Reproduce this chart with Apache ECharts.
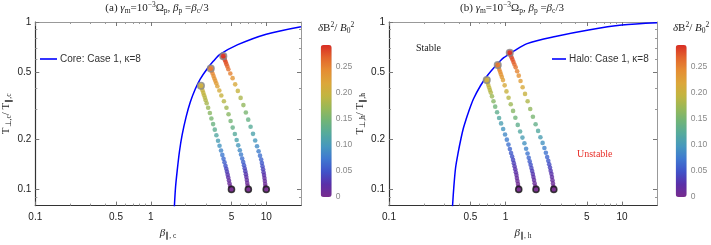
<!DOCTYPE html>
<html><head><meta charset="utf-8">
<script src="https://cdn.jsdelivr.net/npm/echarts@6.0.0/dist/echarts.min.js"></script>
<style>html,body{margin:0;padding:0;background:#fff}#c{width:711px;height:245px}</style>
</head><body><div id="c"></div>
<script>
// ---------- data ----------
const X_MAJOR = [0.1, 0.5, 1, 5, 10];
const X_MINOR = [0.2, 0.3, 0.4, 0.6, 0.7, 0.8, 0.9, 2, 3, 4, 6, 7, 8, 9];
const Y_MAJOR = [0.1, 0.2, 0.5, 1];
const Y_MINOR = [0.09, 0.3, 0.4, 0.6, 0.7, 0.8, 0.9];
const CB_TICKS = [0, 0.05, 0.1, 0.15, 0.2, 0.25];
const X_RANGE = [0.1, 20];
const Y_RANGE = [0.08, 1];
const DB_RANGE = [0, 0.2925];

// threshold curves
const CORE_CURVE_B = [1.60, 1.638, 1.693, 1.773, 1.869, 2.023, 2.20, 2.43, 2.68, 3.06, 3.49, 3.98, 5.67, 10, 20];
const CORE_CURVE_T = [0.078, 0.1027, 0.129, 0.169, 0.2115, 0.271, 0.333, 0.398, 0.456, 0.522, 0.584, 0.64, 0.732, 0.846, 0.938];
const HALO_CURVE_B = [0.351, 0.36, 0.373, 0.392, 0.4155, 0.435, 0.4613, 0.482, 0.532, 0.61, 0.697, 0.821, 0.967, 1.178, 1.535, 2.68, 5.17, 10, 20];
const HALO_CURVE_T = [0.079, 0.1027, 0.1346, 0.165, 0.202, 0.2317, 0.265, 0.2904, 0.3476, 0.416, 0.477, 0.546, 0.612, 0.669, 0.743, 0.82, 0.897, 0.96, 0.99];

// core chains (final state first, initial state last)
const CB1 = [2.72,2.763,2.806,2.851,2.897,2.943,2.99,3.05,3.14,3.25,3.35,3.467,3.584,3.70,3.825,3.94,4.06,4.165,4.265,4.35,4.436,4.506,4.57,4.634,4.69,4.753,4.81,4.876,5.0];
const CT1 = [0.416,0.403,0.390,0.377,0.365,0.3525,0.3405,0.327,0.3077,0.2857,0.265,0.2455,0.2275,0.2106,0.1954,0.1822,0.1707,0.1607,0.1522,0.1452,0.1384,0.1328,0.1276,0.1225,0.1177,0.113,0.1085,0.1042,0.1];
const CD1 = [0.205,0.203,0.2,0.197,0.194,0.19,0.186,0.18,0.172,0.162,0.152,0.141,0.13,0.118,0.106,0.095,0.084,0.074,0.065,0.057,0.049,0.042,0.035,0.029,0.023,0.017,0.011,0.006,0];

const CB2 = [3.31,3.37,3.43,3.494,3.556,3.62,3.693,3.774,3.925,4.083,4.298,4.524,4.716,4.915,5.123,5.35,5.544,5.722,5.905,6.047,6.192,6.315,6.416,6.505,6.582,6.66,6.726,6.79,6.847,6.901,7.0];
const CT2 = [0.527,0.510,0.492,0.476,0.460,0.445,0.430,0.4135,0.390,0.3636,0.336,0.3077,0.281,0.2564,0.234,0.214,0.1973,0.1832,0.1712,0.1615,0.153,0.1457,0.1393,0.1338,0.1285,0.1233,0.1186,0.1137,0.1092,0.105,0.1];
const CD2 = [0.255,0.252,0.248,0.244,0.24,0.235,0.229,0.222,0.212,0.2,0.188,0.175,0.162,0.149,0.136,0.123,0.111,0.099,0.088,0.078,0.068,0.059,0.051,0.043,0.036,0.029,0.023,0.017,0.011,0.005,0];

const CB3 = [4.246,4.315,4.384,4.455,4.524,4.605,4.697,4.886,5.113,5.383,5.675,6.0,6.34,6.66,6.98,7.32,7.68,8.02,8.325,8.59,8.83,9.04,9.17,9.28,9.39,9.48,9.57,9.65,9.73,9.79,9.84,10];
const CT3 = [0.625,0.608,0.592,0.576,0.560,0.542,0.522,0.492,0.462,0.424,0.3875,0.352,0.3187,0.288,0.261,0.2366,0.2147,0.196,0.181,0.169,0.159,0.1507,0.1437,0.1376,0.132,0.1267,0.1217,0.1168,0.1122,0.1077,0.1041,0.1];
const CD3 = [0.29,0.287,0.283,0.279,0.274,0.268,0.261,0.251,0.235,0.215,0.198,0.182,0.167,0.152,0.138,0.124,0.111,0.099,0.088,0.078,0.069,0.06,0.052,0.045,0.038,0.031,0.025,0.019,0.013,0.008,0.004,0];

// halo chains
const HB1 = [0.691,0.701,0.712,0.7236,0.735,0.748,0.766,0.789,0.816,0.847,0.8815,0.917,0.9557,0.992,1.028,1.061,1.091,1.117,1.141,1.162,1.18,1.197,1.213,1.228,1.243,1.254,1.267,1.28,1.29,1.30];
const HT1 = [0.450,0.4346,0.420,0.4063,0.3928,0.3787,0.3596,0.336,0.312,0.2888,0.267,0.2478,0.2294,0.2129,0.1982,0.1852,0.1742,0.165,0.1572,0.150,0.1435,0.1374,0.132,0.1267,0.1217,0.1168,0.1122,0.1077,0.1037,0.1];
const HD1 = [0.205,0.202,0.198,0.194,0.19,0.185,0.172,0.16,0.146,0.132,0.119,0.107,0.096,0.086,0.077,0.069,0.061,0.054,0.048,0.042,0.037,0.032,0.027,0.023,0.018,0.014,0.01,0.006,0.003,0];

const HB2 = [0.859,0.873,0.886,0.901,0.915,0.9316,0.952,0.984,1.02,1.063,1.11,1.162,1.216,1.275,1.336,1.399,1.455,1.504,1.547,1.584,1.615,1.644,1.670,1.694,1.718,1.738,1.759,1.78,1.801,1.83];
const HT2 = [0.553,0.536,0.519,0.5027,0.4865,0.4696,0.4498,0.4184,0.3848,0.3529,0.3228,0.2943,0.268,0.2428,0.2218,0.2039,0.1887,0.1747,0.1637,0.1545,0.1469,0.1404,0.1343,0.1288,0.1235,0.1185,0.1136,0.1089,0.1044,0.1];
const HD2 = [0.255,0.252,0.248,0.243,0.238,0.232,0.225,0.214,0.201,0.188,0.174,0.16,0.146,0.132,0.118,0.105,0.093,0.082,0.072,0.063,0.055,0.048,0.041,0.035,0.029,0.023,0.017,0.011,0.005,0];

const HB3 = [1.089,1.108,1.128,1.148,1.171,1.194,1.223,1.26,1.30,1.347,1.404,1.472,1.55,1.632,1.72,1.815,1.906,1.995,2.084,2.159,2.223,2.281,2.331,2.373,2.411,2.444,2.479,2.508,2.533,2.558,2.578,2.6];
const HT3 = [0.6545,0.6345,0.615,0.5962,0.577,0.5578,0.536,0.5077,0.4779,0.4437,0.4078,0.372,0.336,0.3023,0.2714,0.2452,0.2236,0.205,0.1895,0.1767,0.1655,0.1561,0.1481,0.1411,0.1349,0.1291,0.1238,0.1185,0.1134,0.1086,0.1041,0.1];
const HD3 = [0.29,0.287,0.283,0.279,0.274,0.268,0.26,0.25,0.24,0.228,0.215,0.2,0.184,0.167,0.151,0.135,0.12,0.106,0.093,0.081,0.07,0.061,0.053,0.046,0.039,0.032,0.026,0.02,0.014,0.009,0.004,0];

const RAINBOW = ['#782c8e','#5a2fa8','#4052c9','#3f78d0','#4698be','#55aa9c','#70b478','#98b858','#c2b540','#dca63a','#e58d33','#e3652c','#d92d24'];

// ---------- helpers ----------
const SANS = '"Liberation Sans", Arial, sans-serif';
const SERIF = '"Liberation Serif", "Times New Roman", serif';
const zip2 = (a, b) => a.map((v, i) => [v, b[i]]);
const zip3 = (a, b, c) => a.map((v, i) => [v, b[i], c[i]]);
const chain = (b, t, d) => zip3(b, t, d);
function ends(chains) {
  const out = [];
  chains.forEach(ch => {
    const init = ch[ch.length - 1], fin = ch[0];
    out.push({ value: init, symbolSize: 6, itemStyle: { borderColor: '#111', borderWidth: 1.6 } });
    out.push({ value: fin, symbolSize: 6.5, itemStyle: { borderColor: '#8a8a8a', borderWidth: 1.6 } });
  });
  return out;
}
const fmt = v => String(+(+v).toPrecision(3));
const subRich = {
  base: { fontFamily: SERIF, fontSize: 11, color: '#222' },
  it: { fontFamily: SERIF, fontSize: 11, fontStyle: 'italic', color: '#222' },
  sub: { fontFamily: SERIF, fontSize: 7.5, color: '#222', padding: [6, 0, 0, 0] },
  sup: { fontFamily: SERIF, fontSize: 7.5, color: '#222', padding: [0, 0, 6, 0] }
};

function xAxes(g, name) {
  const base = { type: 'log', logBase: 10, min: X_RANGE[0], max: X_RANGE[1], gridIndex: g, splitLine: { show: false }, minorTick: { show: false } };
  const major = { show: true, inside: true, length: 4, customValues: X_MAJOR, lineStyle: { color: '#777', width: 1 } };
  const minor = { show: true, inside: true, length: 2, customValues: X_MINOR, lineStyle: { color: '#999', width: 1 } };
  return [
    Object.assign({}, base, {
      position: 'bottom', name: name, nameLocation: 'middle', nameGap: 18,
      nameTextStyle: { rich: subRich, fontFamily: SERIF, fontSize: 11, color: '#222' },
      axisLine: { show: true, onZero: false, lineStyle: { color: '#333', width: 1.2 } },
      axisTick: major,
      axisLabel: { show: true, customValues: X_MAJOR, formatter: fmt, fontFamily: SANS, fontSize: 10, color: '#222', margin: 7 }
    }),
    Object.assign({}, base, { position: 'bottom', axisLine: { show: false, onZero: false }, axisTick: minor, axisLabel: { show: false } }),
    Object.assign({}, base, { position: 'top', axisLine: { show: true, onZero: false, lineStyle: { color: '#999', width: 1 } }, axisTick: major, axisLabel: { show: false } }),
    Object.assign({}, base, { position: 'top', axisLine: { show: false, onZero: false }, axisTick: minor, axisLabel: { show: false } })
  ];
}
function yAxes(g, name) {
  const base = { type: 'log', logBase: 10, min: Y_RANGE[0], max: Y_RANGE[1], gridIndex: g, splitLine: { show: false }, minorTick: { show: false } };
  const major = { show: true, inside: true, length: 4, customValues: Y_MAJOR, lineStyle: { color: '#777', width: 1 } };
  const minor = { show: true, inside: true, length: 2, customValues: Y_MINOR, lineStyle: { color: '#999', width: 1 } };
  return [
    Object.assign({}, base, {
      position: 'left', name: name, nameLocation: 'middle', nameGap: 20,
      nameTextStyle: { rich: subRich, fontFamily: SERIF, fontSize: 11, color: '#222' },
      axisLine: { show: true, onZero: false, lineStyle: { color: '#333', width: 1.2 } },
      axisTick: major,
      axisLabel: { show: true, customValues: Y_MAJOR, formatter: fmt, fontFamily: SANS, fontSize: 10, color: '#222', margin: 4 }
    }),
    Object.assign({}, base, { position: 'left', axisLine: { show: false, onZero: false }, axisTick: minor, axisLabel: { show: false } }),
    Object.assign({}, base, { position: 'right', axisLine: { show: true, onZero: false, lineStyle: { color: '#999', width: 1 } }, axisTick: major, axisLabel: { show: false } }),
    Object.assign({}, base, { position: 'right', axisLine: { show: false, onZero: false }, axisTick: minor, axisLabel: { show: false } })
  ];
}
function cbXAxis(g) {
  return { type: 'value', gridIndex: g, min: 0, max: 1, show: false };
}
function cbYAxis(g) {
  return {
    type: 'value', gridIndex: g, min: DB_RANGE[0], max: DB_RANGE[1], position: 'right',
    axisLine: { show: false, onZero: false }, axisTick: { show: false }, splitLine: { show: false },
    axisLabel: { show: true, customValues: CB_TICKS, formatter: v => (+v === 0 ? '0' : (+v).toFixed(2)), fontFamily: SANS, fontSize: 8.5, color: '#888', margin: 4 }
  };
}

const coreChains = [chain(CB1, CT1, CD1), chain(CB2, CT2, CD2), chain(CB3, CT3, CD3)];
const haloChains = [chain(HB1, HT1, HD1), chain(HB2, HT2, HD2), chain(HB3, HT3, HD3)];

const coreName = 'Core: Case 1, \u03ba=8';
const haloName = 'Halo: Case 1, \u03ba=8';

const option = {
  animation: false,
  backgroundColor: '#fff',
  grid: [
    { left: 33, top: 22, width: 268, height: 187, containLabel: false },
    { left: 389, top: 22, width: 268, height: 187, containLabel: false },
    { left: 320.7, top: 45, width: 11, height: 152, containLabel: false },
    { left: 675.7, top: 45, width: 11, height: 152, containLabel: false }
  ],
  xAxis: [].concat(
    xAxes(0, '{it|\u03b2}{sub|\u2225, c}'),
    xAxes(1, '{it|\u03b2}{sub|\u2225, h}'),
    [cbXAxis(2), cbXAxis(3)]
  ),
  yAxis: [].concat(
    yAxes(0, 'T{sub|\u22a5,c}/ T{sub|\u2225,c}'),
    yAxes(1, 'T{sub|\u22a5,h}/ T{sub|\u2225,h}'),
    [cbYAxis(2), cbYAxis(3)]
  ),
  visualMap: [
    { type: 'continuous', min: DB_RANGE[0], max: DB_RANGE[1], dimension: 2, seriesIndex: [1, 2], orient: 'vertical',
      left: 320.7, top: 45, itemWidth: 11, itemHeight: 152, calculable: false, padding: 0, inRange: { color: RAINBOW } },
    { type: 'continuous', min: DB_RANGE[0], max: DB_RANGE[1], dimension: 2, seriesIndex: [4, 5], orient: 'vertical',
      left: 675.7, top: 45, itemWidth: 11, itemHeight: 152, calculable: false, padding: 0, inRange: { color: RAINBOW } }
  ],
  legend: [
    { data: [coreName], left: 40, top: 54, icon: 'rect', itemWidth: 17, itemHeight: 1.6, padding: 0, itemGap: 0,
      textStyle: { fontFamily: SANS, fontSize: 10, color: '#333', padding: [0, 0, 0, -2] } },
    { data: [haloName], left: 552, top: 54, icon: 'rect', itemWidth: 14, itemHeight: 1.6, padding: 0, itemGap: 0,
      textStyle: { fontFamily: SANS, fontSize: 10, color: '#333', padding: [0, 0, 0, -2] } }
  ],
  series: [
    { name: coreName, type: 'line', xAxisIndex: 0, yAxisIndex: 0, data: zip2(CORE_CURVE_B, CORE_CURVE_T),
      showSymbol: false, symbol: 'none', smooth: 0.3, lineStyle: { color: '#0000ff', width: 1.5 }, itemStyle: { color: '#0000ff' }, z: 2 },
    { type: 'scatter', xAxisIndex: 0, yAxisIndex: 0, data: [].concat(...coreChains), symbolSize: 4.6, z: 3 },
    { type: 'scatter', xAxisIndex: 0, yAxisIndex: 0, data: ends(coreChains), z: 4 },
    { name: haloName, type: 'line', xAxisIndex: 4, yAxisIndex: 4, data: zip2(HALO_CURVE_B, HALO_CURVE_T),
      showSymbol: false, symbol: 'none', smooth: 0.3, lineStyle: { color: '#0000ff', width: 1.5 }, itemStyle: { color: '#0000ff' }, z: 2 },
    { type: 'scatter', xAxisIndex: 4, yAxisIndex: 4, data: [].concat(...haloChains), symbolSize: 4.6, z: 3 },
    { type: 'scatter', xAxisIndex: 4, yAxisIndex: 4, data: ends(haloChains), z: 4 }
  ],
  graphic: [
    { type: 'text', x: 157, y: 1, style: { text: '(a) {it|\u03b3}{sub|m}=10{sup|\u22123}\u03a9{sub|p}, {it|\u03b2}{sub|p} ={it|\u03b2}{sub|c}/3', rich: subRich, fontFamily: SERIF, fontSize: 11, fill: '#222', align: 'center', textAlign: 'center', verticalAlign: 'top' } },
    { type: 'text', x: 512, y: 1, style: { text: '(b) {it|\u03b3}{sub|m}=10{sup|\u22123}\u03a9{sub|p}, {it|\u03b2}{sub|p} ={it|\u03b2}{sub|c}/3', rich: subRich, fontFamily: SERIF, fontSize: 11, fill: '#222', align: 'center', textAlign: 'center', verticalAlign: 'top' } },
    { type: 'text', x: 318, y: 21, style: { text: '{it|\u03b4}B{sup|2}/ {it|B}{sub|0}{sup|2}', rich: subRich, fontFamily: SERIF, fontSize: 11, fill: '#222' } },
    { type: 'text', x: 673, y: 21, style: { text: '{it|\u03b4}B{sup|2}/ {it|B}{sub|0}{sup|2}', rich: subRich, fontFamily: SERIF, fontSize: 11, fill: '#222' } },
    { type: 'text', x: 416, y: 43, style: { text: 'Stable', fontFamily: SERIF, fontSize: 10, fill: '#222' } },
    { type: 'text', x: 577, y: 149, style: { text: 'Unstable', fontFamily: SERIF, fontSize: 10, fill: '#e8302a' } }
  ]
};

const chart = echarts.init(document.getElementById('c'), null, { renderer: 'canvas' });
chart.setOption(option);
</script></body></html>
